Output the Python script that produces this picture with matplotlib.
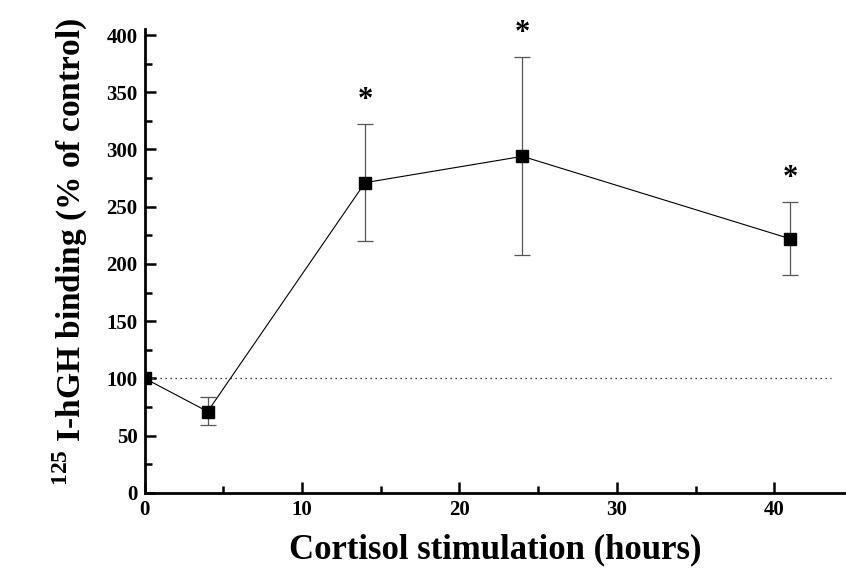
import matplotlib.pyplot as plt
import numpy as np
from matplotlib.ticker import MultipleLocator

# -----------------------------
# Data
# -----------------------------
hours = [0, 4, 14, 24, 41]
binding = [100, 71, 271, 294, 222]
err_low = [100, 59, 220, 208, 190]
err_high = [100, 84, 322, 381, 254]
significant = [False, False, True, True, True]

control_level = 100

# -----------------------------
# Style
# -----------------------------
plt.rcParams['font.family'] = ['Liberation Serif', 'DejaVu Serif']
plt.rcParams['font.weight'] = 'bold'
plt.rcParams['mathtext.fontset'] = 'custom'
plt.rcParams['mathtext.rm'] = 'Liberation Serif:bold'
plt.rcParams['mathtext.bf'] = 'Liberation Serif:bold'

fig = plt.figure(figsize=(8.46, 5.75), dpi=100)
ax = fig.add_axes([0.171, 0.143, 0.828, 0.806])

y = np.array(binding)
yerr = [y - np.array(err_low), np.array(err_high) - y]

ax.errorbar(hours, binding, yerr=yerr, fmt='none', ecolor='#555555',
            elinewidth=0.9, capsize=6, capthick=0.9, zorder=2)
ax.plot(hours, binding, color='black', linewidth=0.8, marker='s',
        markersize=9, markerfacecolor='black', zorder=3)

# control reference line
ax.hlines(control_level, 0, 43.6, colors='black', linestyles=(0, (1, 3)),
          linewidth=0.9, zorder=1)

# significance stars
for h, top, sig in zip(hours, err_high, significant):
    if sig:
        ax.text(h, top + 8, '*', ha='center', va='bottom', fontsize=22,
                fontweight='bold', clip_on=False)

ax.set_xlim(0, 44.5)
ax.set_ylim(0, 405)

ax.xaxis.set_major_locator(MultipleLocator(10))
ax.xaxis.set_minor_locator(MultipleLocator(5))
ax.yaxis.set_major_locator(MultipleLocator(50))
ax.yaxis.set_minor_locator(MultipleLocator(25))

ax.tick_params(which='both', direction='in', width=1.8, labelsize=15)
ax.tick_params(which='major', length=8)
ax.tick_params(which='minor', length=5)
ax.tick_params(axis='x', pad=5)
ax.tick_params(axis='y', pad=5)

for lab in ax.get_xticklabels() + ax.get_yticklabels():
    lab.set_fontweight('bold')

for side in ['top', 'right']:
    ax.spines[side].set_visible(False)
for side in ['left', 'bottom']:
    ax.spines[side].set_linewidth(2)

ax.set_xlabel('Cortisol stimulation (hours)', fontsize=25, fontweight='bold',
              labelpad=10)
ax.set_ylabel(r'$^{125}$ I-hGH binding (% of control)', fontsize=24,
              fontweight='bold')
ax.yaxis.set_label_coords(-0.078, 0.52)

plt.savefig('out.png', dpi=100)
